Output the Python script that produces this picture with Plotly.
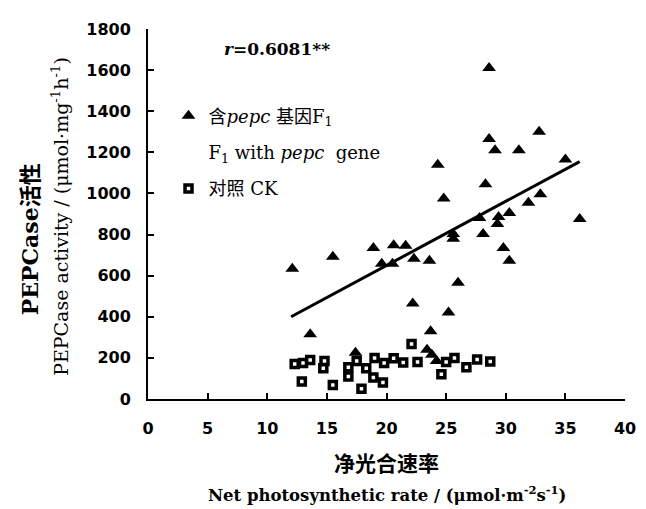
import plotly.graph_objects as go

# Transgenic F1 with pepc gene (triangles)
tri_x = [12.1, 13.6, 15.5, 17.4, 18.9, 19.6, 20.5, 20.6, 21.6, 22.3, 22.2, 23.6, 23.7, 23.4, 23.8, 24.2,
         24.3, 24.8, 25.2, 25.6, 25.6, 26.0, 27.8, 28.1, 28.3, 28.6, 28.6, 29.1, 29.3, 29.4, 29.8,
         30.3, 30.3, 31.1, 31.9, 32.8, 32.9, 35.0, 36.2]
tri_y = [634, 315, 692, 225, 735, 658, 658, 748, 745, 682, 464, 672, 330, 240, 215, 185,
         1140, 975, 421, 803, 779, 566, 881, 803, 1045, 1610, 1265, 1210, 851, 885, 735,
         905, 672, 1210, 955, 1300, 996, 1165, 876]

# Control CK (open squares)
ck_x = [12.3, 13.0, 13.6, 14.8, 14.7, 12.9, 15.5, 16.8, 16.8, 17.5, 17.9, 18.3, 19.0, 18.9, 19.7,
        19.8, 20.6, 21.4, 22.1, 22.6, 24.6, 25.0, 25.7, 26.7, 27.6, 28.7]
ck_y = [170, 175, 190, 185, 150, 85, 68, 155, 110, 185, 50, 150, 200, 105, 80,
        175, 198, 178, 268, 180, 120, 180, 200, 155, 192, 183]

# Regression line end points
fit_x = [12.0, 36.2]
fit_y = [400, 1155]

x_ticks = [0, 5, 10, 15, 20, 25, 30, 35, 40]
y_ticks = [0, 200, 400, 600, 800, 1000, 1200, 1400, 1600, 1800]

serif = "DejaVu Serif, Noto Sans CJK SC"
tickfont = dict(family="DejaVu Sans", size=16, color="black", weight="bold")

fig = go.Figure()
fig.add_trace(go.Scatter(x=fit_x, y=fit_y, mode="lines", line=dict(color="black", width=3),
                         showlegend=False, hoverinfo="skip"))
fig.add_trace(go.Scatter(x=tri_x, y=tri_y, mode="markers", name="含<i>pepc</i> 基因F<sub>1</sub>",
                         legendgroup="a",
                         marker=dict(symbol="triangle-up", size=12, color="black")))
fig.add_trace(go.Scatter(x=[None], y=[None], mode="markers", name="F<sub>1</sub> with <i>pepc</i>  gene",
                         legendgroup="b",
                         marker=dict(symbol="circle", size=1, color="rgba(0,0,0,0)")))
fig.add_trace(go.Scatter(x=ck_x, y=ck_y, mode="markers", name="对照 CK",
                         legendgroup="c",
                         marker=dict(symbol="square", size=7, color="white",
                                     line=dict(color="black", width=3.5))))

fig.update_layout(
    width=646, height=509,
    margin=dict(l=140, r=29, t=18, b=118),
    paper_bgcolor="white", plot_bgcolor="white",
    showlegend=True,
    legend=dict(x=0.043, y=0.815, xanchor="left", yanchor="top",
                font=dict(family=serif, size=18, color="black"),
                tracegroupgap=10, bgcolor="rgba(0,0,0,0)", itemwidth=30),
    xaxis=dict(range=[0, 40], tickvals=x_ticks, ticks="inside", ticklen=6, tickwidth=2,
               tickcolor="black", showline=True, linewidth=2, linecolor="black",
               showgrid=False, zeroline=False, tickfont=tickfont, ticklabelstandoff=14),
    yaxis=dict(range=[0, 1800], tickvals=y_ticks, ticks="inside", ticklen=6, tickwidth=2,
               tickcolor="black", showline=True, linewidth=2, linecolor="black",
               showgrid=False, zeroline=False, tickfont=tickfont, ticklabelstandoff=12),
    annotations=[
        dict(text="<i>r</i>=0.6081**", xref="paper", yref="paper", x=0.270, y=0.946,
             xanchor="center", yanchor="middle", showarrow=False,
             font=dict(family=serif, size=17, color="black", weight="bold")),
        dict(text="净光合速率", xref="paper", yref="paper", x=0.5, y=-0.169,
             xanchor="center", yanchor="middle", showarrow=False,
             font=dict(family="Noto Sans CJK SC", size=21, color="black", weight="bold")),
        dict(text="Net photosynthetic rate / (μmol·m<sup>-2</sup>s<sup>-1</sup>)", xref="paper", yref="paper",
             x=0.5, y=-0.257, xanchor="center", yanchor="middle", showarrow=False,
             font=dict(family=serif, size=16.5, color="black", weight="bold")),
        dict(text="PEPCase活性", xref="paper", yref="paper", x=-0.247, y=0.432, textangle=-90,
             xanchor="center", yanchor="middle", showarrow=False,
             font=dict(family=serif, size=22, color="black", weight="bold")),
        dict(text="PEPCase activity / (μmol·mg<sup>-1</sup>h<sup>-1</sup>)", xref="paper", yref="paper",
             x=-0.186, y=0.493, textangle=-90, xanchor="center", yanchor="middle", showarrow=False,
             font=dict(family=serif, size=19, color="black")),
    ],
)

fig.write_html("out.html")
